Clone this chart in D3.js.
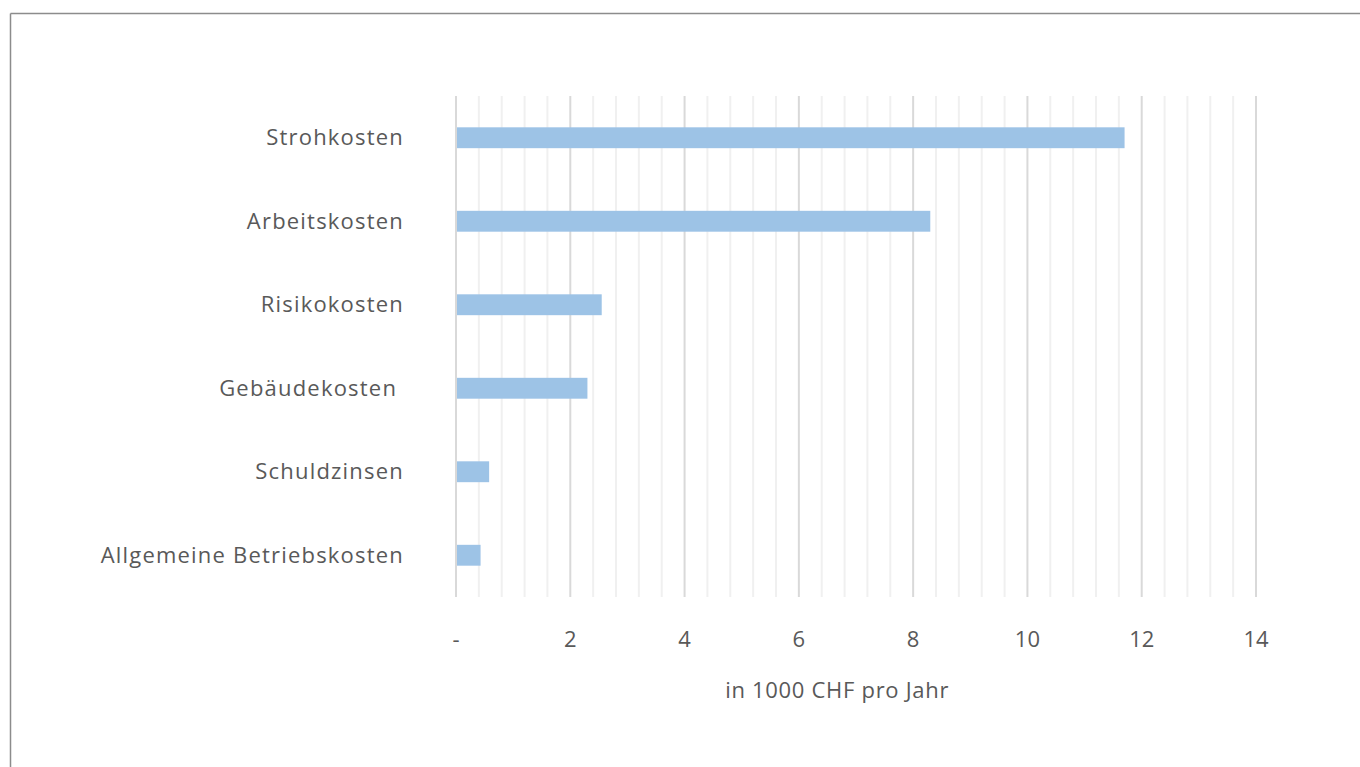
<!DOCTYPE html>
<html>
<head>
<meta charset="utf-8">
<script src="https://cdn.jsdelivr.net/npm/d3@7"></script>
<style>
  html, body { margin: 0; padding: 0; background: #fff; }
  svg { display: block; }
  text { font-family: "Open Sans", "Noto Sans", sans-serif; fill: #595959; }
</style>
</head>
<body>
<svg id="chart" width="1360" height="767"></svg>
<script>
// Cost categories (top to bottom) and annual cost in 1000 CHF
const categories = ["Strohkosten", "Arbeitskosten", "Risikokosten", "Gebäudekosten ", "Schuldzinsen", "Allgemeine Betriebskosten"];
const values = [11.7, 8.3, 2.55, 2.3, 0.58, 0.43];
const majorTicks = [0, 2, 4, 6, 8, 10, 12, 14];
const tickLabels = ["-", "2", "4", "6", "8", "10", "12", "14"];
const minorStep = 0.4;
const axisTitle = "in 1000 CHF pro Jahr";

const svg = d3.select("#chart");
const W = 1360, H = 767;

// frame lines (top and left)
svg.append("line").attr("x1", 10.5).attr("x2", W).attr("y1", 13.5).attr("y2", 13.5)
  .attr("stroke", "#8c8c8c").attr("stroke-width", 1.5);
svg.append("line").attr("x1", 10.5).attr("x2", 10.5).attr("y1", 13.5).attr("y2", H)
  .attr("stroke", "#8c8c8c").attr("stroke-width", 1.5);

const plot = { left: 456, right: 1256, top: 96, bottom: 597 };

const x = d3.scaleLinear().domain([0, 14]).range([plot.left, plot.right]);
const y = d3.scaleBand().domain(categories).range([plot.top, plot.bottom]).paddingInner(0.75).paddingOuter(0.375);

// minor gridlines
const minorVals = d3.range(0, 14 + 1e-9, minorStep).map(v => +v.toFixed(2))
  .filter(v => Math.abs(v / 2 - Math.round(v / 2)) > 1e-6);
svg.append("g").selectAll("line").data(minorVals).join("line")
  .attr("x1", d => x(d)).attr("x2", d => x(d))
  .attr("y1", plot.top).attr("y2", plot.bottom)
  .attr("stroke", "#f0f0f0").attr("stroke-width", 2);

// major gridlines
svg.append("g").selectAll("line").data(majorTicks).join("line")
  .attr("x1", d => x(d)).attr("x2", d => x(d))
  .attr("y1", plot.top).attr("y2", plot.bottom)
  .attr("stroke", "#d9d9d9").attr("stroke-width", 2);

// bars
svg.append("g").selectAll("rect").data(categories).join("rect")
  .attr("x", x(0) + 1)
  .attr("y", d => y(d))
  .attr("width", (d, i) => x(values[i]) - x(0) - 1)
  .attr("height", y.bandwidth())
  .attr("fill", "#9dc3e6");

// category labels
svg.append("g").selectAll("text").data(categories).join("text")
  .attr("x", 404)
  .attr("y", d => y(d) + y.bandwidth() / 2)
  .attr("dy", "0.35em")
  .attr("text-anchor", "end")
  .attr("font-size", 22)
  .attr("letter-spacing", 1.2)
  .style("white-space", "pre")
  .text(d => d);

// x tick labels
svg.append("g").selectAll("text").data(majorTicks).join("text")
  .attr("x", d => x(d))
  .attr("y", 647)
  .attr("text-anchor", "middle")
  .attr("font-size", 22)
  .text((d, i) => tickLabels[i]);

// axis title
svg.append("text")
  .attr("x", x(6.67))
  .attr("y", 698)
  .attr("text-anchor", "middle")
  .attr("font-size", 22)
  .attr("letter-spacing", 0.7)
  .text(axisTitle);
</script>
</body>
</html>
